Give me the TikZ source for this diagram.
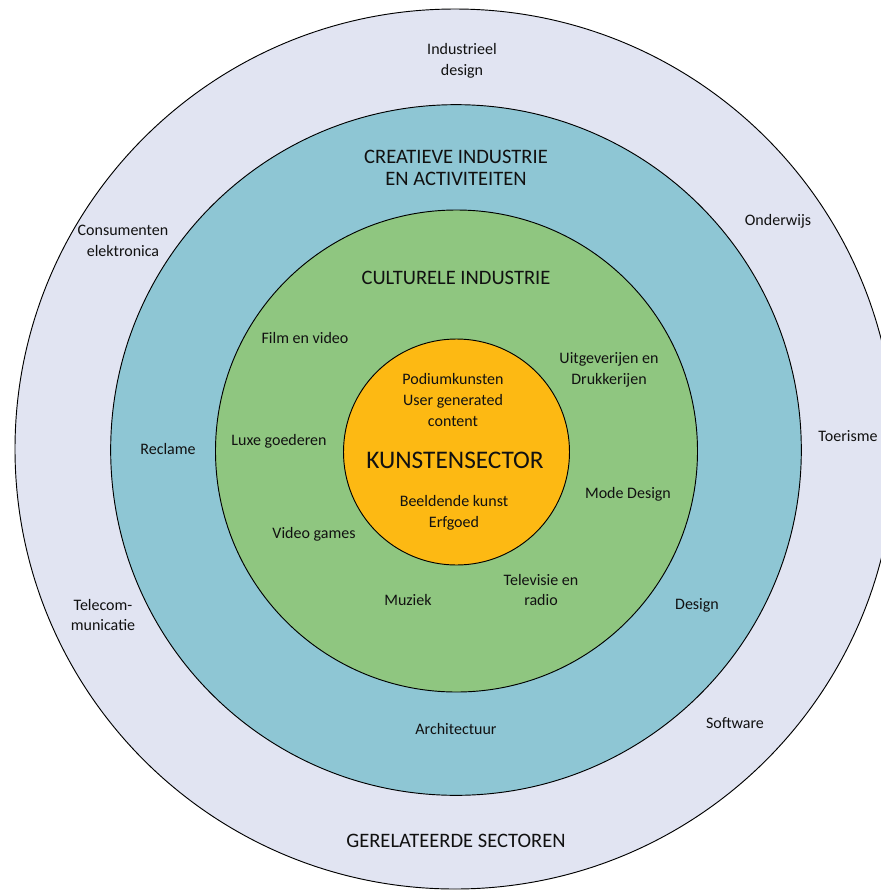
\documentclass[tikz,border=0pt]{standalone}
\usepackage{fontspec}
\setmainfont{Carlito}
\definecolor{ringout}{HTML}{E1E4F2}
\definecolor{ringteal}{HTML}{8EC6D4}
\definecolor{ringgreen}{HTML}{8FC680}
\definecolor{ringorange}{HTML}{FDB913}
\definecolor{txt}{HTML}{111111}
\tikzset{
  ring/.style={circle, draw=black, line width=0.7pt, inner sep=0pt, outer sep=0pt},
  lbl/.style={align=center, text=txt, font=\fontsize{12}{15.5}\selectfont, inner sep=0pt},
  title/.style={align=center, text=txt, font=\fontsize{15.4}{16.5}\selectfont, inner sep=0pt},
  bigtitle/.style={align=center, text=txt, font=\fontsize{19}{22}\selectfont, inner sep=0pt}
}
\begin{document}
\begin{tikzpicture}[x=0.75pt, y=-0.75pt]
\useasboundingbox (0,0) rectangle (881,890);
\fill[white] (0,0) rectangle (881,890);
\clip (0,0) rectangle (881,890);
% rings
\node[ring, fill=ringout, minimum size=660pt] (outer) at (455,449) {};
\node[ring, fill=ringteal, minimum size=518pt] (teal) at (456,450) {};
\node[ring, fill=ringgreen, minimum size=361.5pt] (green) at (456.5,451) {};
\node[ring, fill=ringorange, minimum size=169.5pt] (core) at (456.5,452) {};
% outer ring labels
\node[lbl] (industrieel) at (462,61) {Industrieel\\design};
\node[lbl] (consumenten) at (123,241) {Consumenten\\elektronica};
\node[lbl] (onderwijs) at (778,221) {Onderwijs};
\node[lbl] (toerisme) at (848,436) {Toerisme};
\node[lbl] (telecom) at (103,615) {Telecom-\\municatie};
\node[lbl] (software) at (735,723) {Software};
\node[title] (gerelateerd) at (456,841) {GERELATEERDE SECTOREN};
% teal ring labels
\node[title] (creatief) at (456,168) {CREATIEVE INDUSTRIE\\EN ACTIVITEITEN};
\node[lbl] (reclame) at (168,449) {Reclame};
\node[lbl] (design) at (697,605) {Design};
\node[lbl] (architectuur) at (456,729) {Architectuur};
% green ring labels
\node[title] (cultureel) at (456,278) {CULTURELE INDUSTRIE};
\node[lbl] (film) at (305,338) {Film en video};
\node[lbl] (uitgeverijen) at (609,370) {Uitgeverijen en\\Drukkerijen};
\node[lbl] (luxe) at (279,441) {Luxe goederen};
\node[lbl] (mode) at (628,494) {Mode Design};
\node[lbl] (videogames) at (314,534) {Video games};
\node[lbl] (muziek) at (408,600) {Muziek};
\node[lbl] (televisie) at (541,590) {Televisie en\\radio};
% core labels
\node[lbl] (podium) at (453,400) {Podiumkunsten\\User generated\\content};
\node[bigtitle] (kunsten) at (455,460) {KUNSTENSECTOR};
\node[lbl] (beeldend) at (454,513) {Beeldende kunst\\Erfgoed};
\end{tikzpicture}
\end{document}
